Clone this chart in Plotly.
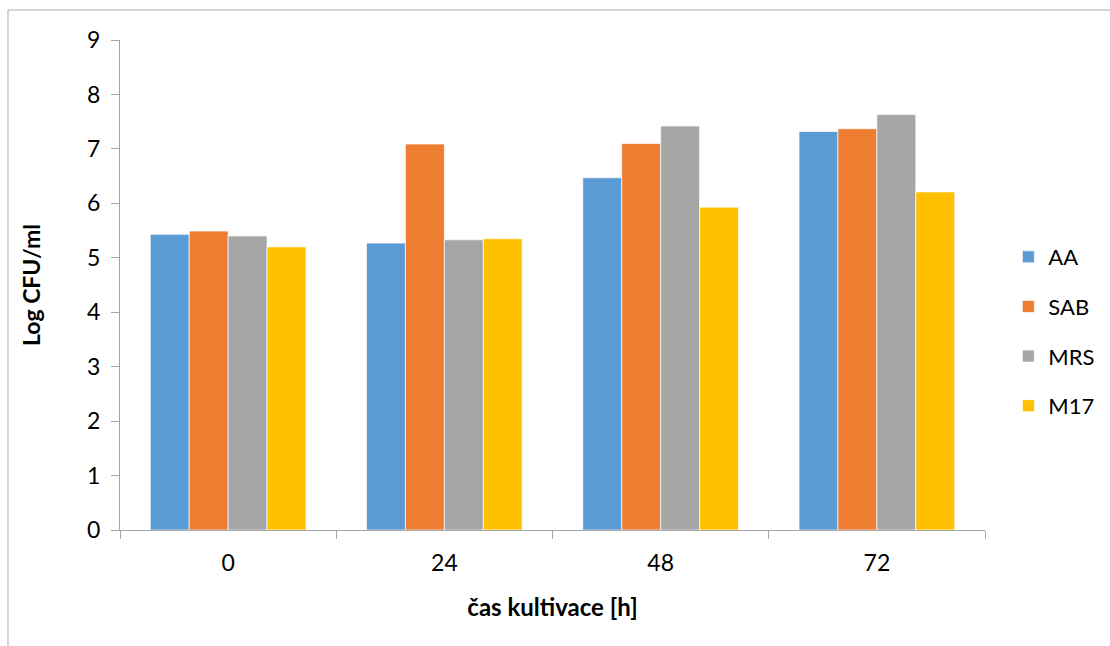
import plotly.graph_objects as go

# Cultivation time points (hours) and log CFU/ml counts on each medium
times = ["0", "24", "48", "72"]
aa = [5.43, 5.27, 6.47, 7.32]
sab = [5.49, 7.09, 7.10, 7.37]
mrs = [5.40, 5.33, 7.42, 7.63]
m17 = [5.20, 5.35, 5.93, 6.21]

series = [
    ("AA", aa, "#5B9BD5"),
    ("SAB", sab, "#ED7D31"),
    ("MRS", mrs, "#A5A5A5"),
    ("M17", m17, "#FFC000"),
]

font_family = "Lato, 'Open Sans', sans-serif"

fig = go.Figure()
for name, vals, color in series:
    fig.add_trace(go.Bar(
        x=times, y=vals, name=name, legendgroup=name,
        marker=dict(color=color, line=dict(color="rgba(255,255,255,0.7)", width=1)),
    ))

axis_color = "#A6A6A6"

fig.update_layout(
    width=1110, height=646,
    margin=dict(l=120, r=125, t=40, b=116, autoexpand=False),
    paper_bgcolor="white", plot_bgcolor="white",
    barmode="group", bargap=0.28, bargroupgap=0,
    font=dict(family=font_family, color="#000000"),
    showlegend=True,
    legend=dict(
        x=1.027, y=0.405, xanchor="left", yanchor="middle",
        font=dict(size=22, family=font_family),
        itemwidth=30, tracegroupgap=18,
        bgcolor="rgba(0,0,0,0)",
    ),
    xaxis=dict(
        type="category",
        showline=True, linecolor=axis_color, linewidth=1,
        ticks="outside", tickson="boundaries", ticklen=8, tickcolor=axis_color,
        tickfont=dict(size=23, family=font_family),
        ticklabelstandoff=12,
        title=dict(text="<b>čas kultivace [h]</b>", font=dict(size=24, family=font_family), standoff=24),
        showgrid=False,
    ),
    yaxis=dict(
        range=[0, 9], dtick=1,
        showline=True, linecolor=axis_color, linewidth=1,
        ticks="outside", ticklen=8, tickcolor=axis_color,
        tickfont=dict(size=23, family=font_family),
        ticklabelstandoff=6,
        title=dict(text="<b>Log CFU/ml</b>", font=dict(size=23, family=font_family), standoff=40),
        showgrid=False, zeroline=False,
    ),
)

# Outer chart frame
fig.add_shape(
    type="rect", xref="paper", yref="paper",
    x0=-0.1295, x1=1.16, y0=-0.26, y1=1.0612,
    line=dict(color="#ADADAD", width=1), fillcolor="rgba(0,0,0,0)",
    layer="below",
)

fig.write_html("out.html")
